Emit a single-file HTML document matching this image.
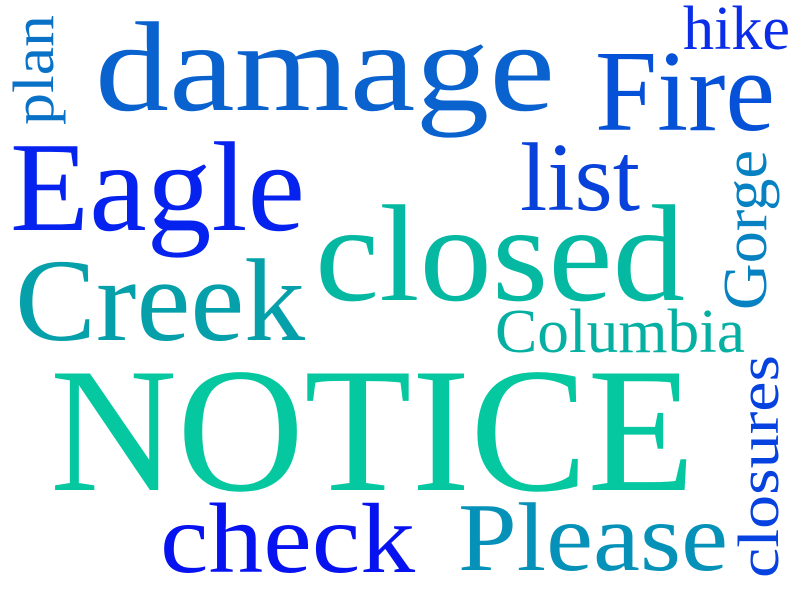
<!DOCTYPE html>
<html><head><meta charset="utf-8"><style>
html,body{margin:0;padding:0;background:#fff;}
svg{display:block;}
text{font-family:"Liberation Serif",serif;}
</style></head><body>
<svg width="800" height="600" viewBox="0 0 800 600">
<rect width="800" height="600" fill="#fff"/>
<text x="95" y="110" font-size="128" fill="#0a62cf" textLength="460" lengthAdjust="spacingAndGlyphs">damage</text>
<text x="595" y="130" font-size="116" fill="#0552d8" textLength="180" lengthAdjust="spacingAndGlyphs">Fire</text>
<text x="683" y="49" font-size="62" fill="#0a2ee8" textLength="107" lengthAdjust="spacingAndGlyphs">hike</text>
<text transform="translate(53,125) rotate(-90)" font-size="58" fill="#0a72c6" textLength="110" lengthAdjust="spacingAndGlyphs">plan</text>
<text x="10" y="230" font-size="128" fill="#0522ef" textLength="295" lengthAdjust="spacingAndGlyphs">Eagle</text>
<text x="520" y="210" font-size="98" fill="#0842da" textLength="120" lengthAdjust="spacingAndGlyphs">list</text>
<text x="315" y="300" font-size="138" fill="#05b8a2" textLength="370" lengthAdjust="spacingAndGlyphs">closed</text>
<text x="15" y="340" font-size="118" fill="#05a0aa" textLength="290" lengthAdjust="spacingAndGlyphs">Creek</text>
<text transform="translate(766,310) rotate(-90)" font-size="62" fill="#0682c2" textLength="160" lengthAdjust="spacingAndGlyphs">Gorge</text>
<text x="495" y="352" font-size="62" fill="#05b0a2" textLength="250" lengthAdjust="spacingAndGlyphs">Columbia</text>
<text x="50" y="490" font-size="178" fill="#05c8a0" textLength="645" lengthAdjust="spacingAndGlyphs">NOTICE</text>
<text transform="translate(778,578) rotate(-90)" font-size="58" fill="#0642e0" textLength="223" lengthAdjust="spacingAndGlyphs">closures</text>
<text x="160" y="572" font-size="100" fill="#0612ef" textLength="255" lengthAdjust="spacingAndGlyphs">check</text>
<text x="458" y="570" font-size="98" fill="#0692b8" textLength="270" lengthAdjust="spacingAndGlyphs">Please</text>
</svg>
</body></html>
